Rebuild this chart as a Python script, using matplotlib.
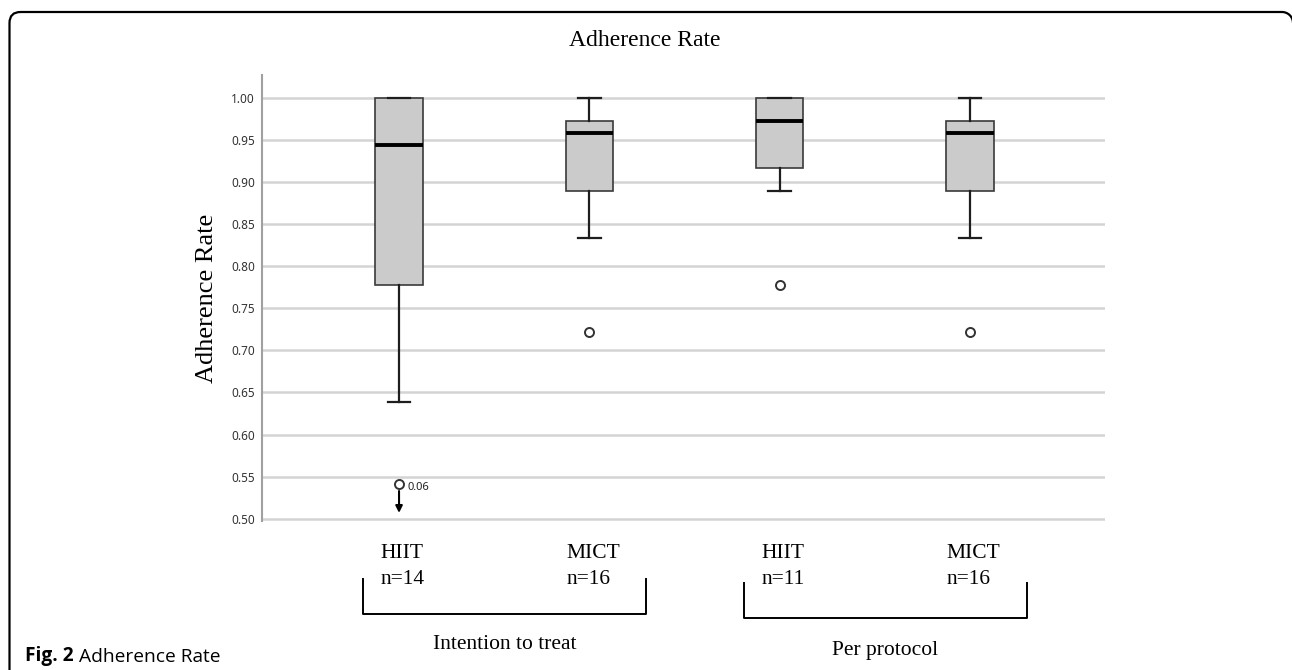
import matplotlib
matplotlib.use("Agg")
import matplotlib.pyplot as plt
from matplotlib.patches import FancyBboxPatch, Arc
from matplotlib.transforms import IdentityTransform, Bbox, blended_transform_factory

# values
groups = ["HIIT", "MICT", "HIIT", "MICT"]
n_sizes = [14, 16, 11, 16]
sections = ["Intention to treat", "Per protocol"]
q1 = [0.778, 0.889, 0.917, 0.889]
medians = [0.944, 0.958, 0.972, 0.958]
q3 = [1.000, 0.972, 1.000, 0.972]
whis_lo = [0.639, 0.833, 0.889, 0.833]
whis_hi = [1.000, 1.000, 1.000, 1.000]
fliers = [[0.541], [0.722], [0.778], [0.722]]
flier_note = "0.06"
yticks = [0.50, 0.55, 0.60, 0.65, 0.70, 0.75, 0.80, 0.85, 0.90, 0.95, 1.00]

serif = "Liberation Serif"
sans = "Noto Sans"

stats = []
for i in range(len(groups)):
    stats.append(dict(q1=q1[i], med=medians[i], q3=q3[i],
                      whislo=whis_lo[i], whishi=whis_hi[i], fliers=fliers[i]))
positions = list(range(1, len(groups) + 1))

fig = plt.figure(figsize=(12.92, 6.70), dpi=100)
ax = fig.add_axes([0.2028, 0.2219, 0.6525, 0.6661])

ax.bxp(stats, positions=positions, widths=0.25, capwidths=0.12,
       patch_artist=True, showfliers=True,
       boxprops=dict(facecolor="#cbcbcb", edgecolor="#3a3a3a", linewidth=1.2),
       medianprops=dict(color="black", linewidth=2.8),
       whiskerprops=dict(color="#1e1e1e", linewidth=1.6),
       capprops=dict(color="#1e1e1e", linewidth=1.6),
       flierprops=dict(marker="o", markersize=6.5, markerfacecolor="white",
                       markeredgecolor="#333333", markeredgewidth=1.4))

ax.set_xlim(0.28, 4.71)
ax.set_ylim(0.497, 1.027)
ax.set_yticks(yticks)
ax.set_yticklabels([f"{v:.2f}" for v in yticks], fontfamily=sans, fontsize=8.5,
                   color="#333333")
ax.tick_params(axis="y", length=0, pad=5)
ax.set_xticks([])
ax.grid(axis="y", color="#d4d4d4", linewidth=1.8)
ax.set_axisbelow(True)
for side in ["top", "right", "bottom"]:
    ax.spines[side].set_visible(False)
ax.spines["left"].set_color("#a0a0a0")
ax.spines["left"].set_linewidth(1.5)

ax.text(-0.0655, 0.5, "Adherence Rate", rotation=90, transform=ax.transAxes,
        ha="center", va="center", fontfamily=serif, fontsize=19)
fig.text(0.499, 1 - 40 / 670, "Adherence Rate", ha="center", va="center",
         fontfamily=serif, fontsize=17)

# truncated outlier marker
ax.annotate("", xy=(1, 0.507), xytext=(1, 0.533),
            arrowprops=dict(arrowstyle="-|>", color="black", lw=1.5,
                            mutation_scale=10, shrinkA=0, shrinkB=0))
ax.text(1.042, 0.5377, flier_note, fontfamily=sans, fontsize=8,
        ha="left", va="center", color="#222222")

# group labels and brackets under the axis
tr = blended_transform_factory(ax.transData, ax.transAxes)
for p, g, n in zip(positions, groups, n_sizes):
    ax.text(p + 0.02, -0.102, f"{g}\nn={n}", transform=tr, ha="center",
            va="center", multialignment="left", fontfamily=serif,
            fontsize=15.5, linespacing=1.5)

bracket_y = [(-0.129, -0.208), (-0.138, -0.217)]
label_y = [-0.277, -0.290]
for k, name in enumerate(sections):
    left = positions[2 * k] - 0.187
    right = positions[2 * k + 1] + 0.30
    top, bot = bracket_y[k]
    ax.plot([left, left, right, right], [top, bot, bot, top], color="black",
            lw=1.4, transform=tr, clip_on=False)
    ax.text((left + right) / 2, label_y[k], name, transform=tr, ha="center",
            va="center", fontfamily=serif, fontsize=15.5)

# rounded frame: left/top edges, plus the top-right corner cut by the image edge
frame = FancyBboxPatch((9.5, -30), 1400, 688, boxstyle="round,pad=0,rounding_size=11",
                       transform=IdentityTransform(), facecolor="none",
                       edgecolor="black", linewidth=1.6)
frame.set_clip_box(Bbox([[0, 0], [1282, 670]]))
fig.patches.append(frame)
corner = Arc((1282, 647), 22, 22, theta1=0, theta2=90, transform=IdentityTransform(),
             color="black", linewidth=1.6)
fig.patches.append(corner)

cap = fig.text(25 / 1292, 1 - 661 / 670, "Fig. 2", fontfamily="Open Sans",
               fontweight="bold", fontsize=13.8, va="baseline", ha="left")
ax.annotate(" Adherence Rate", xy=(1, 0), xycoords=cap, va="bottom", ha="left",
            fontfamily="Open Sans", fontsize=13.8, annotation_clip=False)

fig.savefig("out.png", dpi=100)
